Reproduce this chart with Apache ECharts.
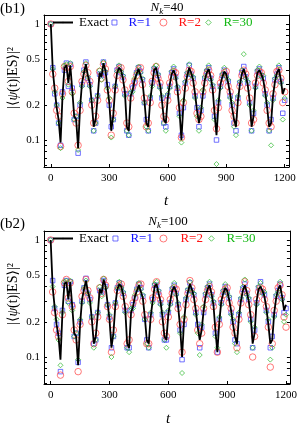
<!DOCTYPE html>
<html><head><meta charset="utf-8">
<script src="https://cdn.jsdelivr.net/npm/echarts@6/dist/echarts.min.js"></script>
<style>html,body{margin:0;padding:0;background:#fff}#c{width:300px;height:427px}</style>
</head><body><div id="c"></div>
<script>
// sample times t = 0,10,...,1200
const tValues = [];
for (let k = 0; k <= 120; k++) tValues.push(k * 10);

const xTicks = [0, 300, 600, 900, 1200];
const yLabels = [0.1, 0.2, 0.5, 1];
const yTicks = [0.06,0.07,0.08,0.09,0.1,0.2,0.3,0.4,0.5,0.6,0.7,0.8,0.9,1];

const exact = [1.0,0.40,0.27,0.19,0.15,0.095,0.24,0.42,0.44,0.31,
0.44,0.27,0.16,0.15,0.085,0.19,0.31,0.38,0.45,0.36,
0.31,0.21,0.13,0.15,0.23,0.38,0.35,0.46,0.40,0.29,
0.21,0.12,0.16,0.28,0.38,0.42,0.40,0.34,0.26,0.13,
0.12,0.24,0.27,0.33,0.37,0.41,0.40,0.32,0.22,0.14,
0.13,0.22,0.30,0.40,0.42,0.35,0.30,0.22,0.15,0.14,
0.23,0.30,0.37,0.40,0.36,0.27,0.18,0.10,0.20,0.30,
0.36,0.42,0.38,0.33,0.25,0.18,0.14,0.17,0.25,0.33,
0.38,0.41,0.35,0.28,0.17,0.11,0.20,0.30,0.35,0.39,
0.37,0.31,0.25,0.19,0.15,0.13,0.22,0.30,0.37,0.41,
0.36,0.30,0.22,0.13,0.16,0.30,0.38,0.40,0.37,0.33,
0.26,0.19,0.13,0.14,0.24,0.32,0.38,0.41,0.33,0.25,
0.28];

// panel b1 (N_k = 40)
const r1_b1 = [1.0,0.42,0.25,0.20,0.14,0.09,0.26,0.40,0.46,0.29,
0.45,0.28,0.15,0.16,0.077,0.20,0.30,0.40,0.47,0.34,
0.30,0.22,0.12,0.14,0.24,0.37,0.36,0.47,0.38,0.30,
0.20,0.13,0.15,0.29,0.40,0.43,0.38,0.35,0.25,0.12,
0.11,0.25,0.28,0.31,0.38,0.42,0.39,0.33,0.21,0.15,
0.12,0.23,0.31,0.41,0.40,0.36,0.29,0.23,0.14,0.13,
0.24,0.29,0.38,0.41,0.35,0.28,0.17,0.11,0.19,0.31,
0.37,0.44,0.37,0.34,0.24,0.19,0.13,0.18,0.24,0.34,
0.39,0.42,0.34,0.29,0.16,0.10,0.21,0.29,0.36,0.40,
0.36,0.32,0.24,0.20,0.14,0.12,0.23,0.31,0.38,0.43,
0.35,0.31,0.21,0.12,0.17,0.29,0.39,0.41,0.36,0.34,
0.25,0.20,0.12,0.15,0.23,0.33,0.37,0.42,0.32,0.17,
0.22];
const r2_b1 = [1.0,0.37,0.28,0.18,0.16,0.088,0.25,0.43,0.42,0.32,
0.43,0.26,0.17,0.14,0.09,0.18,0.32,0.37,0.44,0.38,
0.32,0.20,0.14,0.16,0.22,0.39,0.34,0.45,0.41,0.27,
0.22,0.11,0.17,0.27,0.36,0.41,0.42,0.33,0.27,0.14,
0.13,0.23,0.29,0.32,0.36,0.40,0.42,0.30,0.23,0.13,
0.14,0.21,0.32,0.38,0.43,0.34,0.31,0.20,0.16,0.15,
0.22,0.31,0.35,0.39,0.38,0.26,0.19,0.105,0.21,0.28,
0.35,0.40,0.39,0.31,0.26,0.17,0.15,0.16,0.26,0.31,
0.37,0.40,0.36,0.27,0.18,0.125,0.19,0.31,0.34,0.38,
0.39,0.29,0.26,0.18,0.16,0.14,0.21,0.29,0.36,0.40,
0.37,0.28,0.23,0.14,0.15,0.31,0.36,0.39,0.38,0.31,
0.27,0.18,0.14,0.13,0.25,0.30,0.39,0.40,0.34,0.21,
0.26];
const r30_b1 = [1.0,0.41,0.26,0.20,0.14,0.085,0.23,0.44,0.45,0.30,
0.46,0.25,0.15,0.16,0.082,0.21,0.29,0.39,0.46,0.35,
0.29,0.22,0.12,0.14,0.24,0.40,0.33,0.47,0.39,0.28,
0.23,0.105,0.15,0.29,0.39,0.44,0.39,0.36,0.24,0.12,
0.11,0.26,0.26,0.34,0.38,0.43,0.38,0.34,0.21,0.13,
0.12,0.24,0.29,0.42,0.44,0.37,0.28,0.24,0.14,0.12,
0.25,0.28,0.39,0.43,0.34,0.29,0.16,0.095,0.22,0.32,
0.38,0.45,0.36,0.35,0.23,0.16,0.12,0.19,0.27,0.35,
0.40,0.44,0.33,0.30,0.15,0.062,0.22,0.28,0.37,0.42,
0.35,0.33,0.23,0.21,0.13,0.11,0.24,0.32,0.40,0.55,
0.34,0.32,0.20,0.12,0.18,0.28,0.40,0.43,0.35,0.36,
0.24,0.21,0.12,0.09,0.22,0.34,0.36,0.44,0.31,0.15,
0.23];

// panel b2 (N_k = 100)
const r1_b2 = [1.0,0.45,0.26,0.19,0.16,0.075,0.25,0.41,0.45,0.30,
0.44,0.28,0.15,0.16,0.09,0.20,0.30,0.39,0.47,0.35,
0.31,0.22,0.13,0.14,0.24,0.37,0.36,0.45,0.40,0.28,
0.22,0.12,0.15,0.29,0.39,0.43,0.39,0.35,0.25,0.12,
0.12,0.25,0.28,0.32,0.38,0.42,0.39,0.33,0.21,0.14,
0.12,0.23,0.31,0.41,0.41,0.36,0.29,0.23,0.14,0.14,
0.24,0.29,0.38,0.41,0.35,0.28,0.17,0.095,0.19,0.31,
0.37,0.43,0.37,0.34,0.24,0.19,0.12,0.18,0.24,0.34,
0.39,0.42,0.34,0.29,0.16,0.11,0.21,0.29,0.36,0.40,
0.36,0.32,0.24,0.20,0.14,0.13,0.23,0.31,0.38,0.42,
0.35,0.31,0.21,0.12,0.17,0.29,0.39,0.44,0.36,0.34,
0.25,0.20,0.12,0.15,0.23,0.33,0.37,0.42,0.32,0.24,
0.26];
const r2_b2 = [1.0,0.36,0.24,0.17,0.15,0.07,0.23,0.43,0.46,0.32,
0.43,0.27,0.17,0.14,0.075,0.19,0.33,0.37,0.46,0.37,
0.32,0.20,0.13,0.16,0.22,0.39,0.35,0.46,0.41,0.27,
0.21,0.11,0.17,0.27,0.37,0.41,0.42,0.33,0.27,0.13,
0.14,0.23,0.29,0.32,0.36,0.41,0.42,0.30,0.23,0.13,
0.13,0.21,0.32,0.38,0.44,0.34,0.31,0.20,0.16,0.15,
0.22,0.31,0.35,0.39,0.38,0.26,0.19,0.11,0.21,0.28,
0.35,0.45,0.39,0.31,0.26,0.17,0.13,0.16,0.26,0.31,
0.37,0.40,0.36,0.27,0.18,0.11,0.19,0.31,0.34,0.38,
0.39,0.29,0.26,0.18,0.16,0.12,0.21,0.29,0.36,0.44,
0.37,0.28,0.23,0.10,0.15,0.31,0.36,0.39,0.38,0.31,
0.27,0.18,0.082,0.13,0.25,0.30,0.39,0.41,0.34,0.22,
0.18];
const r30_b2 = [1.0,0.40,0.27,0.21,0.14,0.085,0.24,0.44,0.45,0.29,
0.45,0.25,0.15,0.16,0.095,0.21,0.29,0.39,0.45,0.35,
0.29,0.22,0.12,0.14,0.24,0.40,0.33,0.47,0.39,0.28,
0.23,0.10,0.15,0.29,0.39,0.44,0.39,0.36,0.24,0.12,
0.11,0.26,0.26,0.34,0.38,0.43,0.38,0.34,0.21,0.13,
0.12,0.24,0.29,0.42,0.44,0.37,0.28,0.24,0.14,0.12,
0.25,0.28,0.39,0.43,0.34,0.29,0.16,0.073,0.22,0.32,
0.38,0.44,0.36,0.35,0.23,0.16,0.104,0.19,0.27,0.35,
0.40,0.44,0.33,0.30,0.15,0.12,0.22,0.28,0.37,0.42,
0.35,0.33,0.23,0.21,0.13,0.11,0.24,0.32,0.40,0.46,
0.34,0.32,0.20,0.12,0.18,0.28,0.40,0.43,0.35,0.36,
0.24,0.21,0.095,0.12,0.22,0.34,0.36,0.44,0.31,0.20,
0.23];

const FONT = "'Liberation Serif','DejaVu Serif',serif";
const BLUE = '#3a3aff', RED = '#ff4d4d', GREEN = '#2db82d';
const BLUE_T = '#1414ff', RED_T = '#ff1414', GREEN_T = '#14b814';

const pair = arr => arr.map((v, i) => [tValues[i], v]);

const grids = [
  {left: 44, top: 15, width: 245, height: 152},
  {left: 44, top: 231, width: 247, height: 153}
];
const xr = [[-35, 1222], [-34, 1220]];
const yr = [[0.0585, 1.196], [0.0588, 1.194]];

const xAxis = [], yAxis = [];
for (let g = 0; g < 2; g++) {
  xAxis.push({
    type: 'value', gridIndex: g, min: xr[g][0], max: xr[g][1], position: 'bottom',
    axisLine: {show: true, onZero: false, lineStyle: {color: '#000', width: 1}},
    axisTick: {show: true, inside: true, length: 3, customValues: xTicks, lineStyle: {color: '#000'}},
    axisLabel: {show: true, customValues: xTicks, margin: 6, fontFamily: FONT, fontSize: 11, color: '#000',
      formatter: v => String(Math.round(v))},
    splitLine: {show: false}
  });
  xAxis.push({
    type: 'value', gridIndex: g, min: xr[g][0], max: xr[g][1], position: 'top',
    axisLine: {show: true, onZero: false, lineStyle: {color: '#000', width: 1}},
    axisTick: {show: false}, axisLabel: {show: false}, splitLine: {show: false}
  });
  yAxis.push({
    type: 'log', logBase: 10, gridIndex: g, min: yr[g][0], max: yr[g][1], position: 'left',
    axisLine: {show: true, onZero: false, lineStyle: {color: '#000', width: 1}},
    axisTick: {show: true, inside: true, length: 3, customValues: yTicks, lineStyle: {color: '#000'}},
    axisLabel: {show: true, customValues: yLabels, margin: 4, fontFamily: FONT, fontSize: 11, color: '#000',
      formatter: v => String(+Number(v).toPrecision(2))},
    splitLine: {show: false}
  });
  yAxis.push({
    type: 'log', logBase: 10, gridIndex: g, min: yr[g][0], max: yr[g][1], position: 'right',
    axisLine: {show: true, onZero: false, lineStyle: {color: '#000', width: 1}},
    axisTick: {show: true, inside: true, length: 3, customValues: yTicks, lineStyle: {color: '#000'}},
    axisLabel: {show: false}, splitLine: {show: false}
  });
}

const panels = [
  {r1: r1_b1, r2: r2_b1, r30: r30_b1},
  {r1: r1_b2, r2: r2_b2, r30: r30_b2}
];
const styleR1 = {color: 'transparent', borderColor: BLUE, borderWidth: 0.9};
const styleR2 = {color: 'transparent', borderColor: RED, borderWidth: 0.9, opacity: 0.85};
const styleR30 = {color: 'transparent', borderColor: GREEN, borderWidth: 0.9};
const series = [];
panels.forEach((p, g) => {
  const xi = g * 2, yi = g * 2;
  series.push({name: 'R=1', type: 'scatter', xAxisIndex: xi, yAxisIndex: yi, data: pair(p.r1),
    symbol: 'rect', symbolSize: 4.5, itemStyle: styleR1, z: 2});
  series.push({name: 'R=2', type: 'scatter', xAxisIndex: xi, yAxisIndex: yi, data: pair(p.r2),
    symbol: 'circle', symbolSize: 6.5, itemStyle: styleR2, z: 2});
  series.push({name: 'R=30', type: 'scatter', xAxisIndex: xi, yAxisIndex: yi, data: pair(p.r30),
    symbol: 'diamond', symbolSize: 5, itemStyle: styleR30, z: 2});
  series.push({name: 'Exact', type: 'line', xAxisIndex: xi, yAxisIndex: yi, data: pair(exact),
    showSymbol: false, symbol: 'none', lineStyle: {color: '#000', width: 1.8}, itemStyle: {color: '#000'}, z: 5, animation: false});
});

// icon centre cx, icon size s, text start tx
function legendAt(name, cx, cy, s, tx, color, icon, st) {
  const left = cx - s / 2;
  const pad = tx - (left + s + 5);
  return {data: [{name: name, icon: icon, itemStyle: st}], left: left, top: cy - 8, itemWidth: s, itemHeight: s, padding: 0, selectedMode: false,
    textStyle: {color: color, fontFamily: FONT, fontSize: 13, padding: [0, 0, 0, pad]}};
}
function legendLine(left, cy) {
  return {data: ['Exact'], left: left, top: cy - 8, itemWidth: 20, itemHeight: 2, padding: 0, selectedMode: false,
    textStyle: {color: '#000', fontFamily: FONT, fontSize: 13, padding: [0, 0, 0, 1]}};
}
const legend = [
  legendLine(52, 24),
  legendAt('R=1', 114, 24, 5, 128, BLUE_T, 'rect', styleR1),
  legendAt('R=2', 163, 24, 7, 178, RED_T, 'circle', styleR2),
  legendAt('R=30', 208, 24, 5.5, 223, GREEN_T, 'diamond', styleR30),
  legendLine(52, 240),
  legendAt('R=1', 115, 240, 5, 130, BLUE_T, 'rect', styleR1),
  legendAt('R=2', 163, 240, 7, 180, RED_T, 'circle', styleR2),
  legendAt('R=30', 211, 240, 5.5, 226, GREEN_T, 'diamond', styleR30)
];

const richSub = {
  i: {fontFamily: FONT, fontStyle: 'italic', fontSize: 13, lineHeight: 16},
  s: {fontFamily: FONT, fontStyle: 'italic', fontSize: 9, lineHeight: 16, verticalAlign: 'bottom', padding: [6, 0, 0, 0]},
  n: {fontFamily: FONT, fontSize: 13, lineHeight: 16}
};
const richY = {
  n: {fontFamily: FONT, fontSize: 14},
  i: {fontFamily: FONT, fontSize: 14, fontStyle: 'italic'}
};
const graphic = [
  {type: 'text', left: 0, top: 2, style: {text: '(b1)', font: "15px " + FONT, fill: '#000'}},
  {type: 'text', left: 0, top: 217, style: {text: '(b2)', font: "15px " + FONT, fill: '#000'}},
  {type: 'text', x: 167, y: 8, style: {text: '{i|N}{s|k}{n|=40}', rich: richSub, align: 'center', verticalAlign: 'middle', fill: '#000'}},
  {type: 'text', x: 168, y: 222, style: {text: '{i|N}{s|k}{n|=100}', rich: richSub, align: 'center', verticalAlign: 'middle', fill: '#000'}},
  {type: 'text', x: 13, y: 78, rotation: Math.PI / 2, style: {text: '{n||⟨}{i|ψ}{n|(t)|ES⟩|²}', rich: richY, align: 'center', verticalAlign: 'middle', fill: '#000'}},
  {type: 'text', x: 13, y: 294, rotation: Math.PI / 2, style: {text: '{n||⟨}{i|ψ}{n|(t)|ES⟩|²}', rich: richY, align: 'center', verticalAlign: 'middle', fill: '#000'}},
  {type: 'text', x: 166, y: 201, style: {text: 't', font: "italic 15px " + FONT, align: 'center', verticalAlign: 'middle', fill: '#000'}},
  {type: 'text', x: 168, y: 419, style: {text: 't', font: "italic 15px " + FONT, align: 'center', verticalAlign: 'middle', fill: '#000'}}
];

const chart = echarts.init(document.getElementById('c'), null, {renderer: 'canvas'});
chart.setOption({
  animation: false,
  backgroundColor: '#fff',
  grid: grids,
  xAxis: xAxis,
  yAxis: yAxis,
  legend: legend,
  series: series,
  graphic: graphic
});
</script></body></html>
